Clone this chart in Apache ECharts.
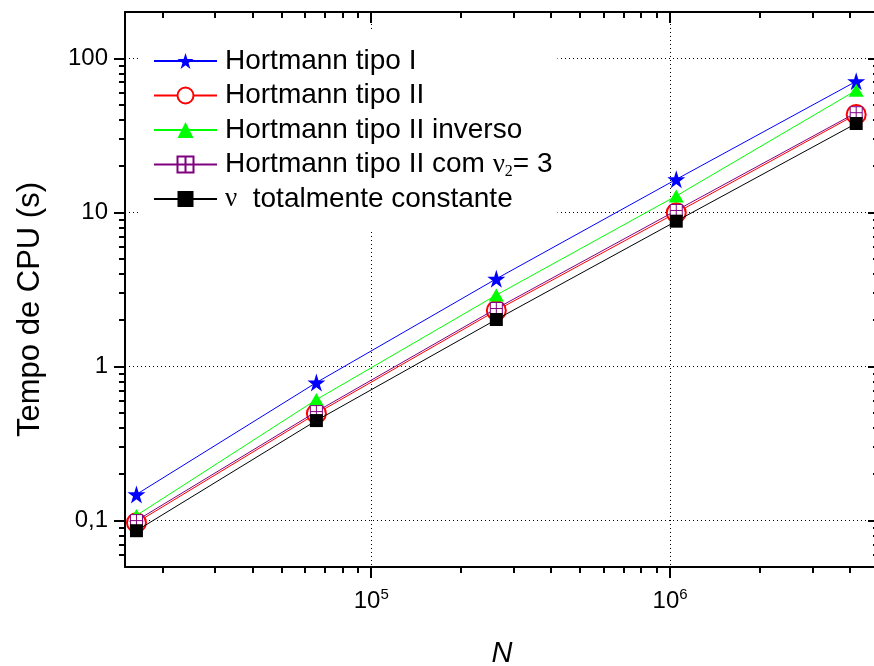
<!DOCTYPE html>
<html>
<head>
<meta charset="utf-8">
<script src="https://cdn.jsdelivr.net/npm/echarts@6/dist/echarts.min.js"></script>
<style>
  html, body { margin: 0; padding: 0; background: #fff; }
  #chart { width: 874px; height: 666px; }
</style>
</head>
<body>
<div id="chart"></div>
<script>
// Problem sizes N and CPU time (s) for each variant of the scheme
const N = [16384, 65536, 262144, 1048576, 4194304];
const seriesNames = [
  'Hortmann tipo I',
  'Hortmann tipo II',
  'Hortmann tipo II inverso',
  'Hortmann tipo II com ν2= 3',
  'ν  totalmente constante'
];
const tipoI         = [0.148, 0.787, 3.71, 16.4, 71.0];
const tipoII        = [0.097, 0.495, 2.31, 9.95, 43.3];
const tipoIIinverso = [0.108, 0.610, 2.91, 12.8, 62.0];
const tipoIInu2     = [0.100, 0.510, 2.38, 10.3, 44.4];
const nuConstante   = [0.086, 0.446, 2.02, 8.78, 37.8];

// Axis ranges and tick labels
const xRange = [15000, 5e6];
const yRange = [0.05, 200];
const xMajorTicks = [1e5, 1e6];
const yMajorTicks = [0.1, 1, 10, 100];
const yTickLabels = ['0,1', '1', '10', '100'];

const FONT = 'Liberation Sans';
const lg = Math.log10;

// minor ticks at 2..9 x 10^k inside a range
function minorTicks(range) {
  const out = [];
  for (let e = Math.floor(lg(range[0])); e <= Math.ceil(lg(range[1])); e++) {
    for (let m = 2; m <= 9; m++) {
      const v = m * Math.pow(10, e);
      if (v > range[0] * 1.0001 && v < range[1] * 0.9999) out.push(v);
    }
  }
  return out;
}

// five-pointed star symbol
function starPath() {
  const pts = [];
  for (let i = 0; i < 10; i++) {
    const r = i % 2 === 0 ? 50 : 19.1;
    const a = Math.PI / 5 * i - Math.PI / 2;
    pts.push((50 + r * Math.cos(a)).toFixed(2) + ',' + (50 + r * Math.sin(a)).toFixed(2));
  }
  return 'path://M' + pts.join('L') + 'Z';
}
const boxPlus = 'path://M0,0L10,0L10,10L0,10Z M5,0L5,10 M0,5L10,5';

// tick-only axes laid over the log axes (values in log10 space)
function tickAxis(pos, range, values, len, inside, extra) {
  return Object.assign({
    type: 'value', position: pos, gridIndex: 0,
    min: lg(range[0]), max: lg(range[1]),
    axisLine: { show: false, onZero: false },
    axisLabel: { show: false },
    splitLine: { show: false },
    axisTick: {
      show: true, customValues: values.map(lg), length: len, inside: inside,
      lineStyle: { color: '#000', width: 2 }
    }
  }, extra || {});
}
const gridDots = { show: true, lineStyle: { color: '#000', width: 1, type: [1, 3] } };

function lineSeries(name, values, color, symbol, size, itemStyle, z) {
  return {
    name: name, type: 'line', xAxisIndex: 0, yAxisIndex: 0,
    data: N.map((n, i) => [n, values[i]]),
    symbol: symbol, symbolSize: size, showAllSymbol: true,
    lineStyle: { color: color, width: 1 },
    itemStyle: itemStyle,
    z: z,
    emphasis: { disabled: true }
  };
}

const chart = echarts.init(document.getElementById('chart'), null, { renderer: 'canvas' });
chart.setOption({
  animation: false,
  backgroundColor: '#fff',
  // fixed plot box; the right frame edge sits just past the canvas border
  grid: { left: 125, top: 12, width: 754, height: 555, outerBoundsMode: 'none', containLabel: false },
  legend: {
    left: 140, top: 31, orient: 'vertical',
    backgroundColor: '#fff',
    padding: [15, 5, 16, 13],
    itemWidth: 63, itemHeight: 20, itemGap: 4.5,
    selectedMode: false,
    data: seriesNames,
    textStyle: {
      fontFamily: FONT, fontSize: 28, color: '#000', lineHeight: 30, padding: [0, 0, 0, 3],
      rich: {
        nu: { fontFamily: 'Liberation Serif', fontSize: 27, lineHeight: 30, color: '#000' },
        sub: { fontFamily: 'Liberation Serif', fontSize: 16, lineHeight: 8, verticalAlign: 'bottom', color: '#000' }
      }
    },
    formatter: function (name) {
      return name.replace('ν2', '{nu|ν}{sub|2}').replace(/^ν/, '{nu|ν}');
    }
  },
  xAxis: [
    {
      type: 'log', logBase: 10, position: 'bottom', min: xRange[0], max: xRange[1],
      axisLine: { show: true, onZero: false, lineStyle: { color: '#000', width: 2 } },
      axisTick: { show: false },
      splitLine: { show: false },
      axisLabel: {
        showMinLabel: false, showMaxLabel: false, margin: 20,
        formatter: function (v) { return '{b|10}{s|' + Math.round(lg(v)) + '}'; },
        rich: {
          b: { fontFamily: FONT, fontSize: 24, lineHeight: 28, color: '#000' },
          s: { fontFamily: FONT, fontSize: 15, lineHeight: 15, verticalAlign: 'top', color: '#000' }
        }
      },
      name: 'N', nameLocation: 'middle', nameGap: 72,
      nameTextStyle: { fontFamily: FONT, fontSize: 29, fontStyle: 'italic', color: '#000' }
    },
    {
      type: 'log', logBase: 10, position: 'top', min: xRange[0], max: xRange[1],
      axisLine: { show: true, onZero: false, lineStyle: { color: '#000', width: 2 } },
      axisTick: { show: false }, axisLabel: { show: false }, splitLine: { show: false }
    },
    tickAxis('bottom', xRange, xMajorTicks, 11, false, { splitLine: gridDots }),
    tickAxis('bottom', xRange, minorTicks(xRange), 6, false),
    tickAxis('top', xRange, xMajorTicks, 11, true),
    tickAxis('top', xRange, minorTicks(xRange), 6, true)
  ],
  yAxis: [
    {
      type: 'log', logBase: 10, position: 'left', min: yRange[0], max: yRange[1],
      axisLine: { show: true, onZero: false, lineStyle: { color: '#000', width: 2 } },
      axisTick: { show: false },
      splitLine: { show: false },
      axisLabel: {
        showMinLabel: false, showMaxLabel: false, margin: 17,
        fontFamily: FONT, fontSize: 24, color: '#000',
        formatter: function (v) {
          const i = yMajorTicks.findIndex(t => Math.abs(lg(t) - lg(v)) < 1e-6);
          return i >= 0 ? yTickLabels[i] : '';
        }
      },
      name: 'Tempo de CPU (s)', nameLocation: 'middle', nameGap: 79, nameRotate: 90,
      nameTextStyle: { fontFamily: FONT, fontSize: 31, color: '#000', padding: [0, 40, 0, 0] }
    },
    {
      type: 'log', logBase: 10, position: 'right', min: yRange[0], max: yRange[1],
      axisLine: { show: true, onZero: false, lineStyle: { color: '#000', width: 2 } },
      axisTick: { show: false }, axisLabel: { show: false }, splitLine: { show: false }
    },
    tickAxis('left', yRange, yMajorTicks, 11, false, { splitLine: gridDots }),
    tickAxis('left', yRange, minorTicks(yRange), 6, false),
    tickAxis('right', yRange, yMajorTicks, 11, true),
    tickAxis('right', yRange, minorTicks(yRange), 6, true)
  ],
  series: [
    lineSeries(seriesNames[0], tipoI, '#0000ff', starPath(), 18, { color: '#0000ff' }, 2),
    lineSeries(seriesNames[1], tipoII, '#ff0000', 'emptyCircle', 19, { color: '#ff0000', borderWidth: 1.5 }, 3),
    lineSeries(seriesNames[2], tipoIIinverso, '#00ff00', 'triangle', [15, 13], { color: '#00ff00' }, 4),
    lineSeries(seriesNames[3], tipoIInu2, '#800080', boxPlus, 12, { color: '#ffffff', borderColor: '#800080', borderWidth: 1 }, 5),
    lineSeries(seriesNames[4], nuConstante, '#000000', 'rect', 13, { color: '#000000' }, 6)
  ]
});
</script>
</body>
</html>
